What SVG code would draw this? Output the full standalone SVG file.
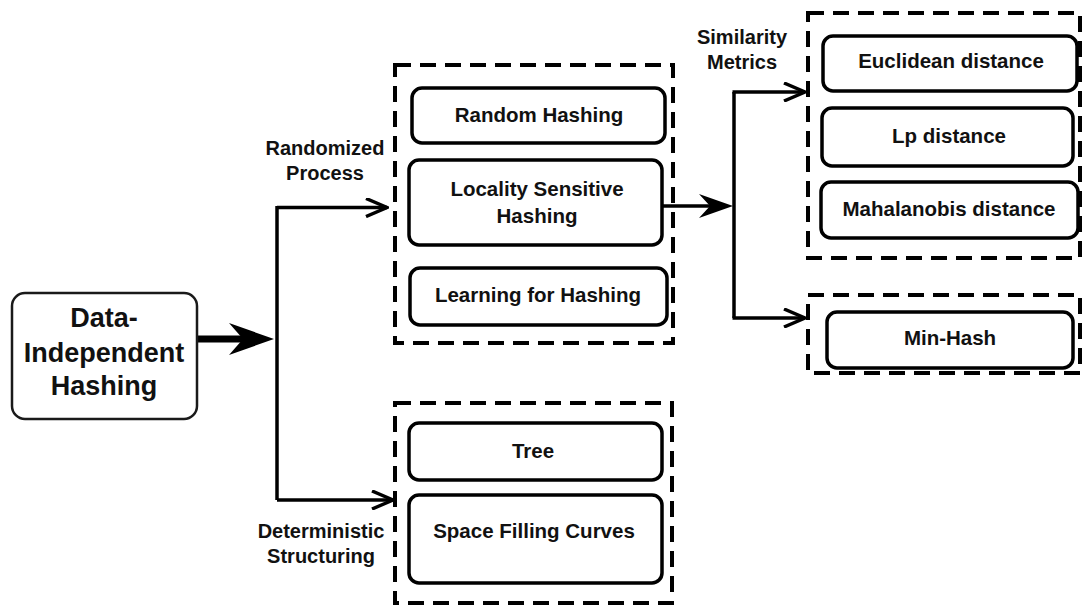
<svg xmlns="http://www.w3.org/2000/svg" width="1083" height="605" viewBox="0 0 1083 605">
  <defs>
    <style>
      .node { fill: #ffffff; stroke: #000000; stroke-width: 3.5; }
      .root { fill: #ffffff; stroke: #1a1a1a; stroke-width: 2.5; }
      .group { fill: none; stroke: #000000; stroke-width: 4; stroke-dasharray: 16 9; }
      .wire { fill: none; stroke: #000000; stroke-width: 3.5; }
      .label { font-family: "Liberation Sans", Arial, Helvetica, sans-serif; font-weight: bold; font-size: 20px; fill: #111111; text-anchor: middle; }
      .txt { font-family: "Liberation Sans", Arial, Helvetica, sans-serif; font-weight: bold; font-size: 20.5px; fill: #111111; text-anchor: middle; }
      .big { font-family: "Liberation Sans", Arial, Helvetica, sans-serif; font-weight: bold; font-size: 27px; fill: #111111; text-anchor: middle; }
    </style>
    <marker id="open" viewBox="0 0 24 20" refX="22" refY="10" markerWidth="24" markerHeight="20" markerUnits="userSpaceOnUse" orient="auto">
      <path d="M1,1 L22,10 L1,19" fill="none" stroke="#000" stroke-width="3.5"/>
    </marker>
  </defs>
  <rect width="1083" height="605" fill="#ffffff"/>

  <!-- dashed groupings -->
  <rect class="group" x="395" y="65" width="278" height="278"/>
  <rect class="group" x="395" y="403" width="277" height="200"/>
  <rect class="group" x="808" y="13" width="272" height="245"/>
  <rect class="group" x="808" y="295" width="272" height="78"/>

  <!-- connectors -->
  <g id="connectors">
    <!-- thick arrow from the root node -->
    <line x1="197" y1="339" x2="245" y2="339" stroke="#000" stroke-width="7"/>
    <path d="M274,339 L229,323 L243,339 L229,355 Z" fill="#000"/>
    <!-- branch trunk -->
    <line class="wire" x1="277" y1="206" x2="277" y2="500"/>
    <polyline class="wire" points="277,207.5 387,207.5" marker-end="url(#open)"/>
    <polyline class="wire" points="277,500 393,500" marker-end="url(#open)"/>
    <!-- from LSH to metrics -->
    <line class="wire" x1="662" y1="206" x2="715" y2="206"/>
    <path d="M733,206 L699,194 L710,206 L699,218 Z" fill="#000"/>
    <line class="wire" x1="734" y1="92" x2="734" y2="318"/>
    <polyline class="wire" points="732.5,92 805,92" marker-end="url(#open)"/>
    <polyline class="wire" points="732.5,318 805,318" marker-end="url(#open)"/>
  </g>

  <!-- edge labels -->
  <text class="label" x="325" y="155">Randomized</text>
  <text class="label" x="325" y="180">Process</text>
  <text class="label" x="321" y="538">Deterministic</text>
  <text class="label" x="321" y="563">Structuring</text>
  <text class="label" x="742" y="44">Similarity</text>
  <text class="label" x="742" y="69">Metrics</text>

  <!-- nodes -->
  <g id="data-independent-hashing">
    <rect class="root" x="12" y="293" width="185" height="126" rx="13"/>
    <text class="big" x="104" y="327">Data-</text>
    <text class="big" x="104" y="362">Independent</text>
    <text class="big" x="104" y="395">Hashing</text>
  </g>
  <g id="random-hashing">
    <rect class="node" x="412" y="88" width="253" height="55" rx="10"/>
    <text class="txt" x="539" y="122">Random Hashing</text>
  </g>
  <g id="lsh">
    <rect class="node" x="409" y="160" width="253" height="85" rx="10"/>
    <text class="txt" x="537" y="196">Locality Sensitive</text>
    <text class="txt" x="537" y="223">Hashing</text>
  </g>
  <g id="learning-for-hashing">
    <rect class="node" x="410" y="268" width="257" height="57" rx="10"/>
    <text class="txt" x="538" y="302">Learning for Hashing</text>
  </g>
  <g id="tree">
    <rect class="node" x="409" y="423" width="253" height="57" rx="10"/>
    <text class="txt" x="533" y="458">Tree</text>
  </g>
  <g id="space-filling-curves">
    <rect class="node" x="409" y="495" width="253" height="88" rx="10"/>
    <text class="txt" x="534" y="538">Space Filling Curves</text>
  </g>
  <g id="euclidean">
    <rect class="node" x="823" y="36" width="254" height="55" rx="10"/>
    <text class="txt" x="951" y="68">Euclidean distance</text>
  </g>
  <g id="lp">
    <rect class="node" x="822" y="108" width="251" height="58" rx="10"/>
    <text class="txt" x="949" y="143">Lp distance</text>
  </g>
  <g id="mahalanobis">
    <rect class="node" x="821" y="182" width="257" height="56" rx="10"/>
    <text class="txt" x="949" y="216">Mahalanobis distance</text>
  </g>
  <g id="min-hash">
    <rect class="node" x="827" y="312" width="246" height="56" rx="10"/>
    <text class="txt" x="950" y="345">Min-Hash</text>
  </g>
</svg>
